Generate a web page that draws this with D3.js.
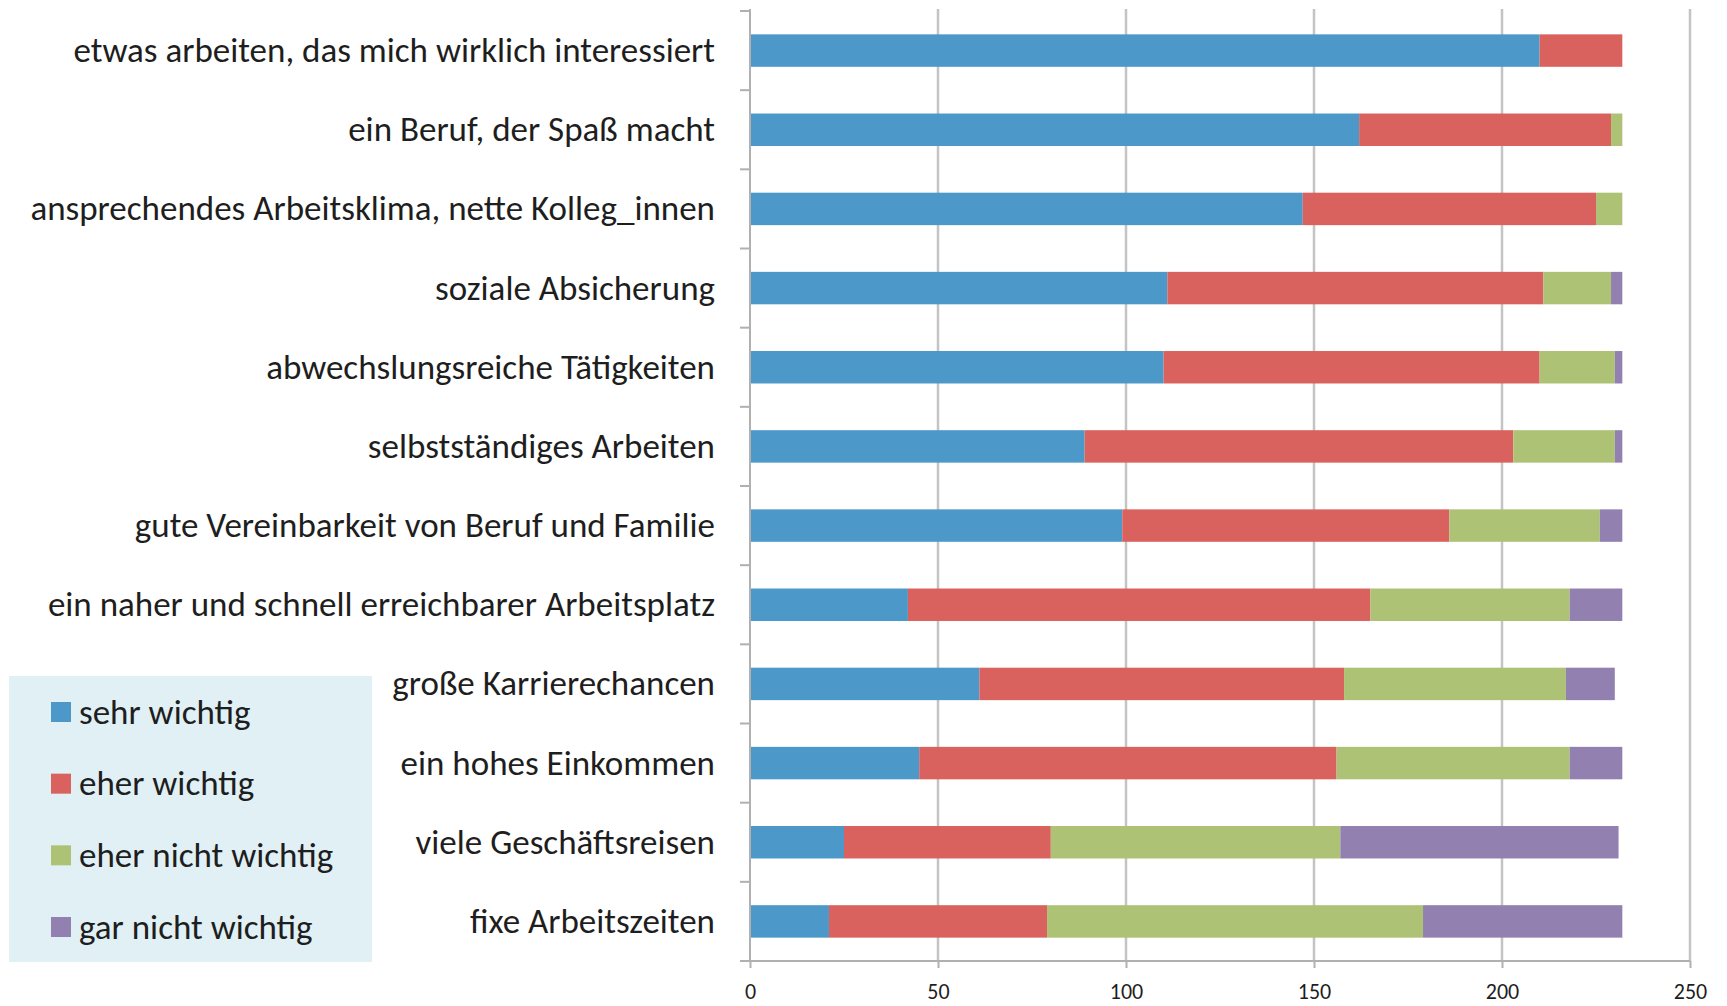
<!DOCTYPE html>
<html>
<head>
<meta charset="utf-8">
<script src="https://cdn.jsdelivr.net/npm/d3@7"></script>
<style>
  body { margin: 0; background: #fff; }
  svg { display: block; }
  .lbl { font-family: Carlito, Calibri, "Open Sans", sans-serif; }
</style>
</head>
<body>
<svg id="chart"></svg>
<script>
const categories = [
    "etwas arbeiten, das mich wirklich interessiert",
    "ein Beruf, der Spaß macht",
    "ansprechendes Arbeitsklima, nette Kolleg_innen",
    "soziale Absicherung",
    "abwechslungsreiche Tätigkeiten",
    "selbstständiges Arbeiten",
    "gute Vereinbarkeit von Beruf und Familie",
    "ein naher und schnell erreichbarer Arbeitsplatz",
    "große Karrierechancen",
    "ein hohes Einkommen",
    "viele Geschäftsreisen",
    "fixe Arbeitszeiten"
]

const seriesNames = ["sehr wichtig", "eher wichtig", "eher nicht wichtig", "gar nicht wichtig"]

const sehrWichtig      = [210, 162, 147, 111, 110,  89,  99,  42,  61,  45, 25,  21]
const eherWichtig      = [ 22,  67,  78, 100, 100, 114,  87, 123,  97, 111, 55,  58]
const eherNichtWichtig = [  0,   3,   7,  18,  20,  27,  40,  53,  59,  62, 77, 100]
const garNichtWichtig  = [  0,   0,   0,   3,   2,   2,   6,  14,  13,  14, 74,  53]

const xTicks = [0, 50, 100, 150, 200, 250]

const colors = ["#4b98c9", "#d9625e", "#adc274", "#9280b1"]

const W = 1727, H = 1006
const svg = d3.select("#chart").attr("width", W).attr("height", H)

// tabelle fuer d3.stack
const rows = categories.map((c, i) => ({
    name: c,
    "sehr wichtig": sehrWichtig[i],
    "eher wichtig": eherWichtig[i],
    "eher nicht wichtig": eherNichtWichtig[i],
    "gar nicht wichtig": garNichtWichtig[i]
}))
const stacked = d3.stack().keys(seriesNames)(rows)

const x = d3.scaleLinear().domain([0, 250]).range([750, 1690])
const y = d3.scaleBand().domain(categories).range([11, 961])
    .paddingInner(0.59).paddingOuter(0.295)

const gridColor = "#c4c4c4"
const axisColor = "#b0b0b0"

// gitterlinien
svg.append("g")
    .selectAll("line")
    .data(xTicks.slice(1))
    .join("line")
    .attr("x1", d => x(d)).attr("x2", d => x(d))
    .attr("y1", 9).attr("y2", 961)
    .attr("stroke", gridColor)
    .attr("stroke-width", 2.5)

// balken
svg.append("g")
    .selectAll("g")
    .data(stacked)
    .join("g")
    .attr("fill", (d, i) => colors[i])
    .selectAll("rect")
    .data(d => d)
    .join("rect")
    .attr("x", d => x(d[0]))
    .attr("y", d => y(d.data.name))
    .attr("width", d => x(d[1]) - x(d[0]))
    .attr("height", y.bandwidth())

// x-achse
const xAxis = svg.append("g")
    .attr("transform", "translate(0,961)")
    .call(d3.axisBottom(x).tickValues(xTicks).tickSize(7))
xAxis.select(".domain").attr("d", "M740,0H" + x(250)).attr("stroke", axisColor).attr("stroke-width", 2)
xAxis.selectAll(".tick line").attr("stroke", axisColor).attr("stroke-width", 2)
xAxis.selectAll(".tick text")
    .attr("class", "lbl")
    .attr("font-size", 22)
    .attr("dy", null)
    .attr("y", 38)
    .attr("fill", "#1e1e1e")

// y-achse
const bandEdges = categories.map(c => y(c) - y.step() * y.paddingInner() / 2).concat([961])
const yAxis = svg.append("g")
yAxis.append("line")
    .attr("x1", 750).attr("x2", 750).attr("y1", 9).attr("y2", 961)
    .attr("stroke", axisColor).attr("stroke-width", 2)
yAxis.selectAll("line.tick")
    .data(bandEdges)
    .join("line")
    .attr("class", "tick")
    .attr("x1", 740).attr("x2", 750)
    .attr("y1", d => d).attr("y2", d => d)
    .attr("stroke", axisColor).attr("stroke-width", 2)

svg.append("g")
    .selectAll("text")
    .data(categories)
    .join("text")
    .attr("class", "lbl")
    .attr("x", 715)
    .attr("y", d => y(d) + y.bandwidth() / 2)
    .attr("dy", "0.33em")
    .attr("text-anchor", "end")
    .attr("font-size", 35)
    .attr("fill", "#1e1e1e")
    .text(d => d)

// legende
const legend = svg.append("g")
legend.append("rect")
    .attr("x", 9).attr("y", 676)
    .attr("width", 363).attr("height", 286)
    .attr("fill", "#e0f0f5")

const ly = d3.scalePoint().domain(seriesNames).range([712, 927])
legend.selectAll("rect.key")
    .data(seriesNames)
    .join("rect")
    .attr("class", "key")
    .attr("x", 51).attr("y", d => ly(d) - 10)
    .attr("width", 20).attr("height", 20)
    .attr("fill", (d, i) => colors[i])
legend.selectAll("text")
    .data(seriesNames)
    .join("text")
    .attr("class", "lbl")
    .attr("x", 79)
    .attr("y", d => ly(d))
    .attr("dy", "0.33em")
    .attr("font-size", 35)
    .attr("fill", "#1e1e1e")
    .text(d => d)
</script>
</body>
</html>
